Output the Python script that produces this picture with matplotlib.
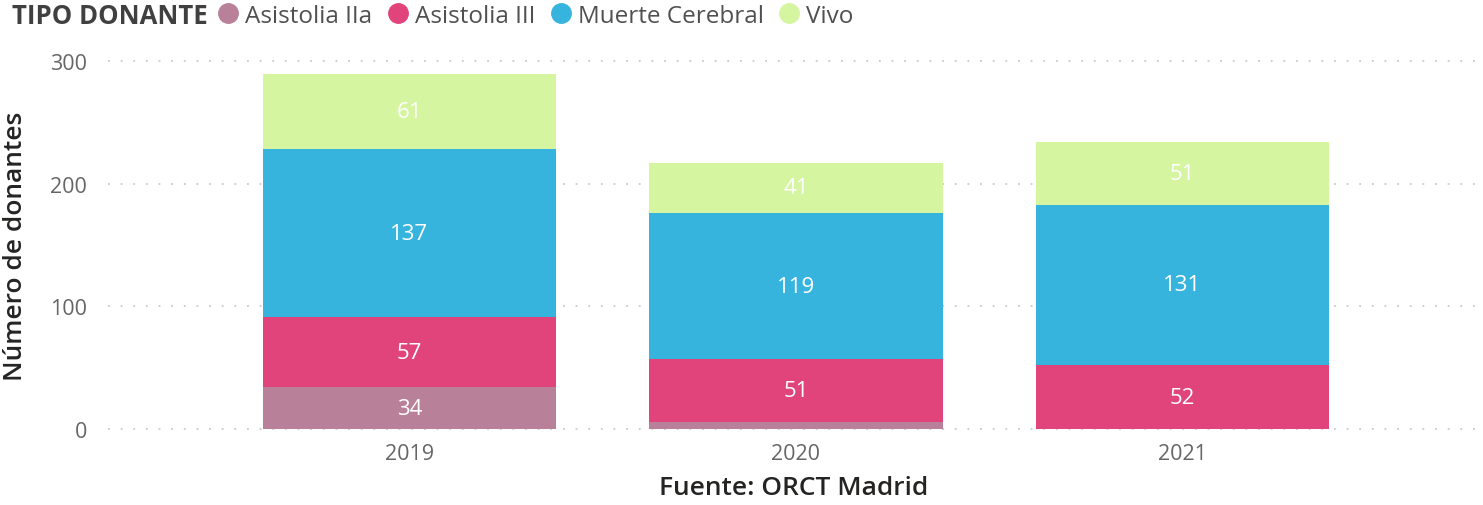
import matplotlib
matplotlib.use("Agg")
import matplotlib.pyplot as plt
from matplotlib.lines import Line2D
import numpy as np

years = ["2019", "2020", "2021"]
series_names = ["Asistolia IIa", "Asistolia III", "Muerte Cerebral", "Vivo"]
asistolia_iia = [34, 6, 0]
asistolia_iii = [57, 51, 52]
muerte_cerebral = [137, 119, 131]
vivo = [61, 41, 51]
yticks = [0, 100, 200, 300]

colors = ["#B98099", "#E0447B", "#37B4DE", "#D6F5A1"]
series = [asistolia_iia, asistolia_iii, muerte_cerebral, vivo]

plt.rcParams['font.family'] = ['Open Sans', 'DejaVu Sans']

fig = plt.figure(figsize=(14.83, 5.06), dpi=100)
ax = fig.add_axes([108/1483, 76/506, 1372/1483, 368/506])

x = np.arange(len(years))
bottom = np.zeros(len(years))
for name, vals, c in zip(series_names, series, colors):
    vals = np.array(vals, dtype=float)
    ax.bar(x, vals, 0.76, bottom=bottom, color=c, zorder=3, label=name)
    for xi, b, v in zip(x, bottom, vals):
        if v >= 20:
            ax.text(xi, b + v / 2, f"{int(v)}", ha="center", va="center",
                    color="white", fontsize=16, zorder=4)
    bottom += vals

ax.set_xlim(-0.78, 2.77)
ax.set_ylim(0, 300)
ax.set_yticks(yticks)
ax.set_xticks(x)
ax.set_xticklabels(years)
for s in ax.spines.values():
    s.set_visible(False)
ax.tick_params(axis="both", length=0, labelsize=15.5, labelcolor="#666666")
ax.tick_params(axis="y", pad=15)
ax.tick_params(axis="x", pad=10)
for yv in yticks:
    ax.axhline(yv, color="#C8C8C8", linestyle=(0, (1, 6)), linewidth=1.3,
               zorder=1, clip_on=False)

ax.set_ylabel("Número de donantes", fontsize=19, color="#252423",
              fontweight="semibold")
ax.yaxis.set_label_coords(-(108 - 28) / 1372, 0.5)
ax.set_xlabel("Fuente: ORCT Madrid", fontsize=19, color="#252423",
              fontweight="semibold", labelpad=8)

fig.text(12/1483, 1 - 17/506, "TIPO DONANTE", fontsize=18.5, fontweight="bold",
         color="#404040", va="center", ha="left")
handles = [Line2D([0], [0], marker="o", linestyle="", markersize=14,
                  markerfacecolor=c, markeredgecolor=c) for c in colors]
fig.legend(handles, series_names, loc="center left",
           bbox_to_anchor=(217/1483, 1 - 17/506), ncol=4, frameon=False,
           fontsize=17.5, handlelength=0.9, handletextpad=0.25, columnspacing=0.6,
           labelcolor="#505050", borderaxespad=0, borderpad=0)

fig.savefig("out.png", dpi=100)
